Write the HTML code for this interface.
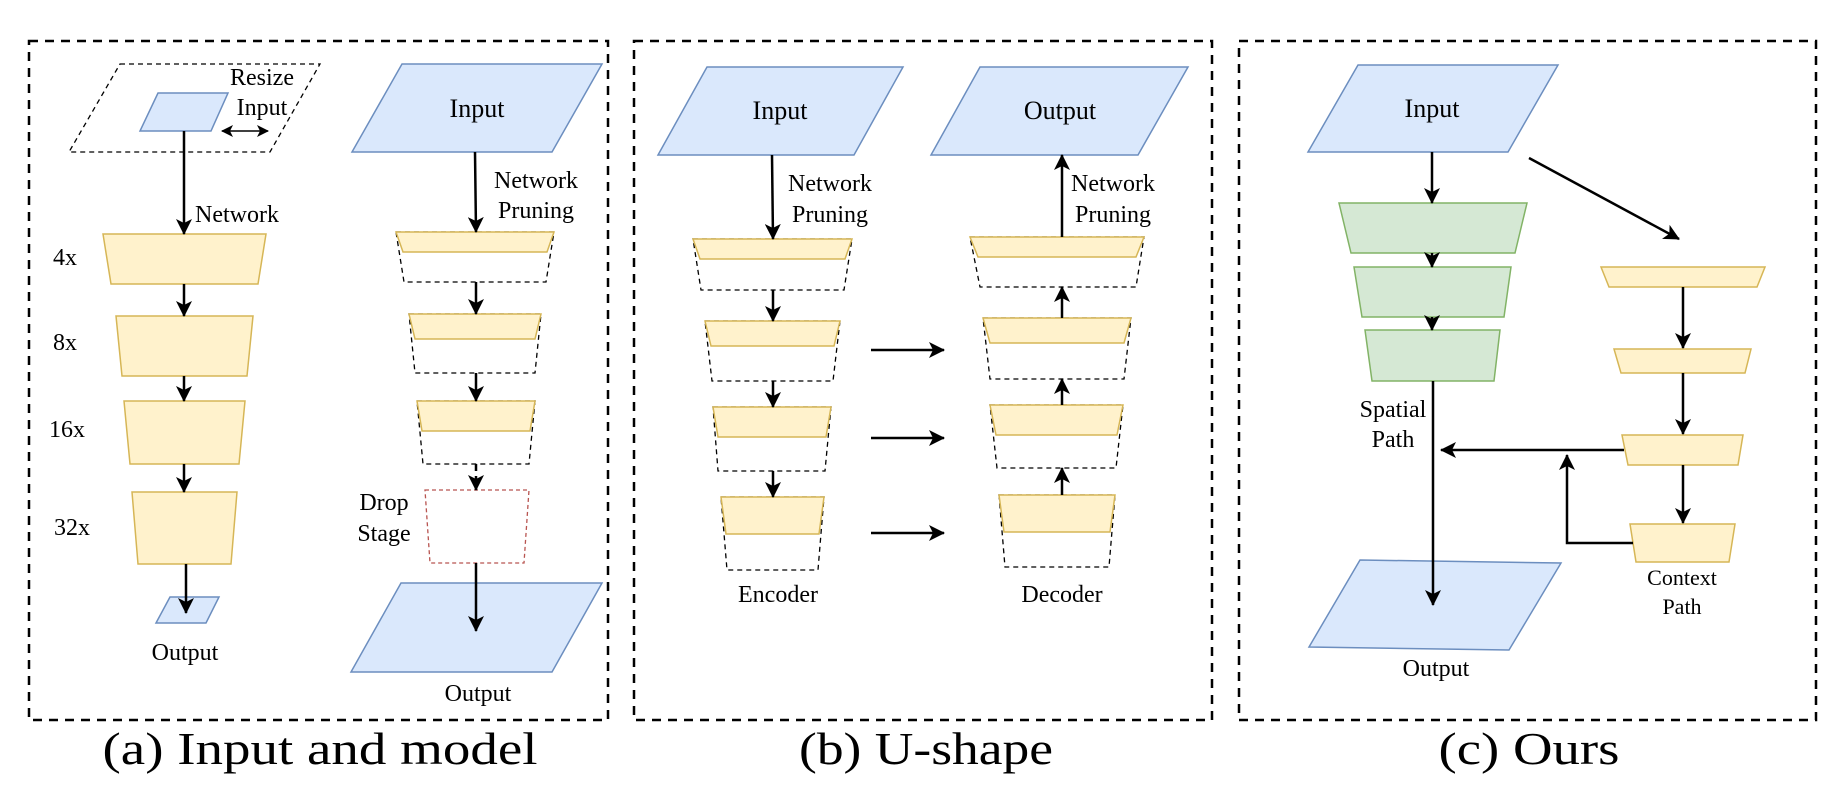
<!DOCTYPE html>
<html><head><meta charset="utf-8"><style>
html,body{margin:0;padding:0;background:#fff}
svg{display:block}
text{font-family:"Liberation Serif",serif;fill:#000}
</style></head><body>
<svg width="1834" height="802" viewBox="0 0 1834 802" xmlns="http://www.w3.org/2000/svg">
<defs>
<marker id="ahb" markerWidth="16" markerHeight="16" refX="15" refY="8" orient="auto" markerUnits="userSpaceOnUse" viewBox="0 0 16 16">
<path d="M0,0 L16,8 L0,16 L4,8 Z" fill="#000"/></marker>
<marker id="ahs" markerWidth="12" markerHeight="12" refX="11" refY="6" orient="auto-start-reverse" markerUnits="userSpaceOnUse" viewBox="0 0 12 12">
<path d="M0,0 L12,6 L0,12 L3,6 Z" fill="#000"/></marker>
</defs>
<g fill="none" stroke="#000" stroke-width="2.5" stroke-dasharray="9,7">
<rect x="29" y="41" width="579" height="679"/>
<rect x="634" y="41" width="578" height="679"/>
<rect x="1239" y="41" width="577" height="679"/>
</g>

<!-- Panel a left -->
<polygon points="120,64 320,64 270,152 69,152" fill="none" stroke="#000" stroke-width="1.3" stroke-dasharray="5,4"/>
<polygon points="158,93 228,93 211,131 140,131" fill="#dae8fc" stroke="#6c8ebf" stroke-width="1.5"/>
<text x="262" y="85" font-size="24" text-anchor="middle">Resize</text>
<text x="262" y="115" font-size="24" text-anchor="middle">Input</text>
<line x1="222" y1="131" x2="268" y2="131" stroke="#000" stroke-width="1.5" marker-start="url(#ahs)" marker-end="url(#ahs)"/>
<text x="195" y="222" font-size="24">Network</text>
<g fill="#fff2cc" stroke="#d6b656" stroke-width="1.5">
<polygon points="103,234 266,234 258,284 111,284"/>
<polygon points="116,316 253,316 247,376 122,376"/>
<polygon points="124,401 245,401 239,464 130,464"/>
<polygon points="132,492 237,492 231,564 138,564"/>
</g>
<g font-size="24" text-anchor="middle">
<text x="65" y="265">4x</text>
<text x="65" y="350">8x</text>
<text x="67" y="437">16x</text>
<text x="72" y="535">32x</text>
</g>
<polygon points="170,597 219,597 206,623 156,623" fill="#dae8fc" stroke="#6c8ebf" stroke-width="1.5"/>
<text x="185" y="660" font-size="24" text-anchor="middle">Output</text>
<g stroke="#000" stroke-width="2.5" fill="none" marker-end="url(#ahb)">
<line x1="184" y1="131" x2="184" y2="234"/>
<line x1="184" y1="284" x2="184" y2="316"/>
<line x1="184" y1="376" x2="184" y2="401"/>
<line x1="184" y1="464" x2="184" y2="492"/>
<line x1="186" y1="564" x2="186" y2="613"/>
</g>

<!-- Panel a right -->
<polygon points="402,64 602,64 552,152 352,152" fill="#dae8fc" stroke="#6c8ebf" stroke-width="1.5"/>
<text x="477" y="117" font-size="26" text-anchor="middle">Input</text>
<text x="536" y="188" font-size="24" text-anchor="middle">Network</text>
<text x="536" y="218" font-size="24" text-anchor="middle">Pruning</text>
<g fill="none" stroke="#000" stroke-width="1.3" stroke-dasharray="5,4">
<polygon points="396,232 554,232 546,282 404,282"/>
<polygon points="409,314 541,314 535,373 415,373"/>
<polygon points="417,401 535,401 529,464 423,464"/>
</g>
<g fill="#fff2cc" stroke="#d6b656" stroke-width="1.5">
<polygon points="396,232 554,232 547,252 403,252"/>
<polygon points="409,314 541,314 535,339 415,339"/>
<polygon points="417,401 535,401 530,431 422,431"/>
</g>
<polygon points="425,490 529,490 524,563 430,563" fill="none" stroke="#b85450" stroke-width="1.3" stroke-dasharray="4,3"/>
<text x="384" y="510" font-size="24" text-anchor="middle">Drop</text>
<text x="384" y="541" font-size="24" text-anchor="middle">Stage</text>
<polygon points="401,583 602,583 552,672 351,672" fill="#dae8fc" stroke="#6c8ebf" stroke-width="1.5"/>
<text x="478" y="701" font-size="24" text-anchor="middle">Output</text>
<g stroke="#000" stroke-width="2.5" fill="none" marker-end="url(#ahb)">
<line x1="475" y1="152" x2="476" y2="232"/>
<line x1="476" y1="282" x2="476" y2="314"/>
<line x1="476" y1="373" x2="476" y2="401"/>
<line x1="476" y1="464" x2="476" y2="490" stroke-dasharray="7,5"/>
<line x1="476" y1="563" x2="476" y2="631"/>
</g>

<!-- Panel b -->
<polygon points="707,67 903,67 854,155 658,155" fill="#dae8fc" stroke="#6c8ebf" stroke-width="1.5"/>
<text x="780" y="119" font-size="26" text-anchor="middle">Input</text>
<polygon points="980,67 1188,67 1138,155 931,155" fill="#dae8fc" stroke="#6c8ebf" stroke-width="1.5"/>
<text x="1060" y="119" font-size="26" text-anchor="middle">Output</text>
<text x="830" y="191" font-size="24" text-anchor="middle">Network</text>
<text x="830" y="222" font-size="24" text-anchor="middle">Pruning</text>
<text x="1113" y="191" font-size="24" text-anchor="middle">Network</text>
<text x="1113" y="222" font-size="24" text-anchor="middle">Pruning</text>
<g fill="none" stroke="#000" stroke-width="1.3" stroke-dasharray="5,4">
<polygon points="693,239 852,239 844,290 701,290"/>
<polygon points="705,321 840,321 833,381 712,381"/>
<polygon points="713,407 831,407 825,471 718,471"/>
<polygon points="721,497 824,497 818,570 727,570"/>
<polygon points="970,237 1144,237 1136,287 980,287"/>
<polygon points="983,318 1131,318 1124,379 990,379"/>
<polygon points="990,405 1123,405 1116,468 997,468"/>
<polygon points="999,495 1115,495 1109,567 1005,567"/>
</g>
<g fill="#fff2cc" stroke="#d6b656" stroke-width="1.5">
<polygon points="693,239 852,239 845,259 700,259"/>
<polygon points="705,321 840,321 834,346 711,346"/>
<polygon points="713,407 831,407 826,437 718,437"/>
<polygon points="721,497 824,497 819,534 726,534"/>
<polygon points="970,237 1144,237 1136,257 978,257"/>
<polygon points="983,318 1131,318 1124,343 990,343"/>
<polygon points="990,405 1123,405 1117,435 996,435"/>
<polygon points="999,495 1115,495 1110,532 1004,532"/>
</g>
<g stroke="#000" stroke-width="2.5" fill="none" marker-end="url(#ahb)">
<line x1="772" y1="155" x2="773" y2="239"/>
<line x1="773" y1="290" x2="773" y2="321"/>
<line x1="773" y1="381" x2="773" y2="407"/>
<line x1="773" y1="471" x2="773" y2="497"/>
<line x1="1062" y1="237" x2="1062" y2="155"/>
<line x1="1062" y1="318" x2="1062" y2="287"/>
<line x1="1062" y1="405" x2="1062" y2="379"/>
<line x1="1062" y1="495" x2="1062" y2="468"/>
<line x1="871" y1="350" x2="944" y2="350"/>
<line x1="871" y1="438" x2="944" y2="438"/>
<line x1="871" y1="533" x2="944" y2="533"/>
</g>
<text x="778" y="602" font-size="24" text-anchor="middle">Encoder</text>
<text x="1062" y="602" font-size="24" text-anchor="middle">Decoder</text>

<!-- Panel c -->
<polygon points="1358,65 1558,65 1508,152 1308,152" fill="#dae8fc" stroke="#6c8ebf" stroke-width="1.5"/>
<text x="1432" y="117" font-size="26" text-anchor="middle">Input</text>
<g fill="#d5e8d4" stroke="#82b366" stroke-width="1.5">
<polygon points="1339,203 1527,203 1515,253 1351,253"/>
<polygon points="1354,267 1511,267 1504,317 1362,317"/>
<polygon points="1365,330 1500,330 1494,381 1372,381"/>
</g>
<g fill="#fff2cc" stroke="#d6b656" stroke-width="1.5">
<polygon points="1601,267 1765,267 1757,287 1609,287"/>
<polygon points="1614,349 1751,349 1745,373 1621,373"/>
<polygon points="1622,435 1743,435 1738,465 1628,465"/>
<polygon points="1630,524 1735,524 1729,562 1636,562"/>
</g>
<polygon points="1360,560 1561,563 1509,650 1309,647" fill="#dae8fc" stroke="#6c8ebf" stroke-width="1.5"/>
<g stroke="#000" stroke-width="2.5" fill="none" marker-end="url(#ahb)">
<line x1="1432" y1="152" x2="1432" y2="203"/>
<line x1="1432" y1="253" x2="1432" y2="267"/>
<line x1="1432" y1="317" x2="1432" y2="330"/>
<line x1="1433" y1="381" x2="1433" y2="605"/>
<line x1="1529" y1="158" x2="1679" y2="239"/>
<line x1="1683" y1="287" x2="1683" y2="348"/>
<line x1="1683" y1="373" x2="1683" y2="434"/>
<line x1="1683" y1="465" x2="1683" y2="523"/>
<line x1="1624" y1="450" x2="1441" y2="450"/>
<polyline points="1633,543 1567,543 1567,455"/>
</g>
<text x="1393" y="417" font-size="24" text-anchor="middle">Spatial</text>
<text x="1393" y="447" font-size="24" text-anchor="middle">Path</text>
<text x="1682" y="585" font-size="22" text-anchor="middle">Context</text>
<text x="1682" y="614" font-size="22" text-anchor="middle">Path</text>
<text x="1436" y="676" font-size="24" text-anchor="middle">Output</text>

<!-- captions -->
<text x="320" y="764" font-size="46" text-anchor="middle" textLength="435" lengthAdjust="spacingAndGlyphs">(a) Input and model</text>
<text x="926" y="764" font-size="46" text-anchor="middle" textLength="254" lengthAdjust="spacingAndGlyphs">(b) U-shape</text>
<text x="1529" y="764" font-size="46" text-anchor="middle" textLength="181" lengthAdjust="spacingAndGlyphs">(c) Ours</text>
</svg>
</body></html>
